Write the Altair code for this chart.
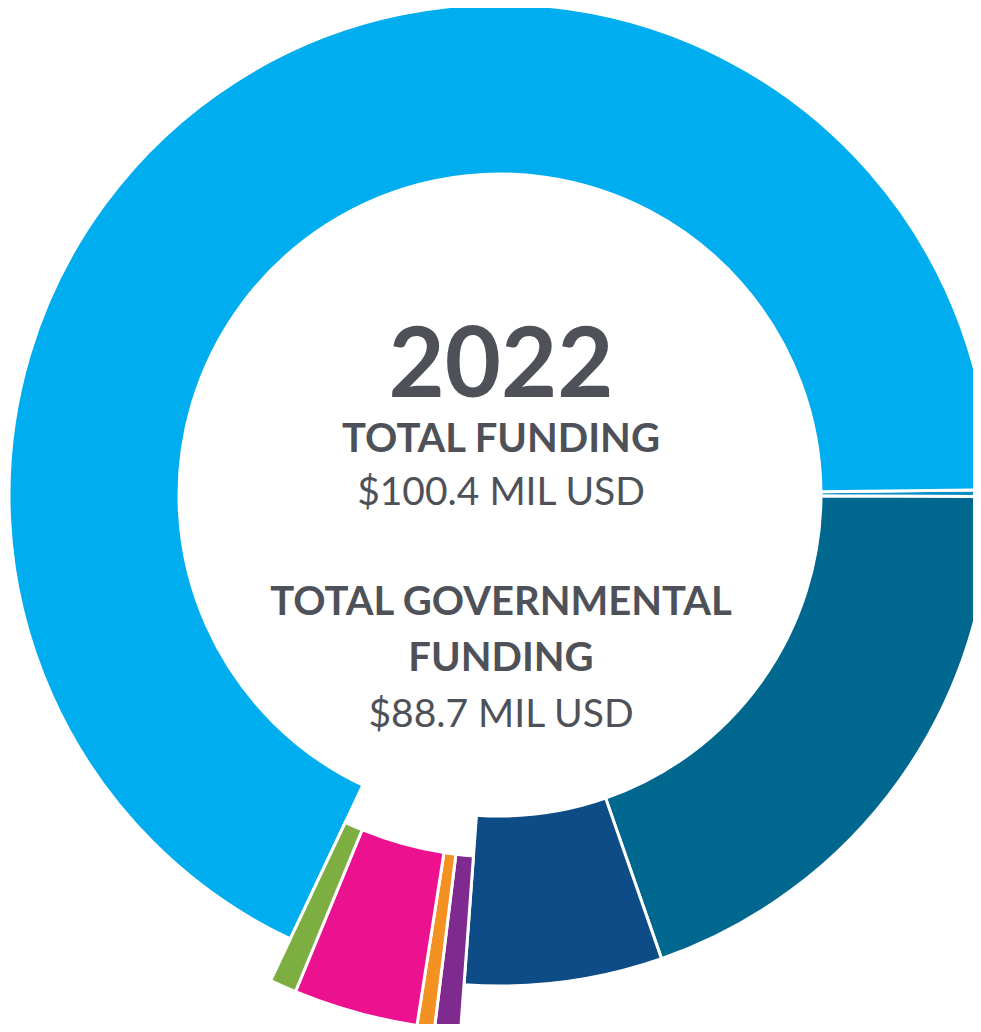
import math
import altair as alt
import pandas as pd

# ---- data -------------------------------------------------------------
names = ["Thin blue", "Teal", "Navy", "Purple", "Orange", "Pink", "Green", "Light blue"]
values = [0.22, 19.69, 6.53, 0.78, 0.53, 3.76, 0.81, 68.08]   # MIL USD
colors = ["#0a8ec6", "#00678f", "#0e4c87", "#7f2a8e", "#f39222", "#ec118f", "#7cae42", "#00adee"]
exploded = [False, False, False, True, True, True, True, False]
order = list(range(len(names)))

year_text = ["2022"]
total_label = ["TOTAL FUNDING"]
total_value = ["$100.4 MIL USD"]
gov_label_1 = ["TOTAL GOVERNMENTAL"]
gov_label_2 = ["FUNDING"]
gov_value = ["$88.7 MIL USD"]

df = pd.DataFrame({"name": names, "value": values, "exploded": exploded, "order": order})
total = sum(values)

# ---- layout -------------------------------------------------------------
CX, CY = 492, 487
start = math.radians(89.4)
theta_scale = alt.Scale(domain=[0, total], range=[start, start + 2 * math.pi])
text_color = "#4f5159"
FONT = "Lato"

base = (
    alt.Chart(df)
    .transform_window(cum_end="sum(value)", sort=[alt.SortField("order")], frame=[None, 0])
    .transform_calculate(cum_start="datum.cum_end - datum.value")
)
enc = dict(
    theta=alt.Theta("cum_start:Q", scale=theta_scale),
    theta2=alt.Theta2("cum_end:Q"),
    color=alt.Color("name:N", scale=alt.Scale(domain=names, range=colors), legend=None),
)

ring = base.transform_filter("!datum.exploded").mark_arc(
    innerRadius=321, radius=491, stroke="white", strokeWidth=3, x=CX, y=CY
).encode(**enc)

pulled = base.transform_filter("datum.exploded").mark_arc(
    innerRadius=362, radius=537, stroke="white", strokeWidth=3, x=CX, y=CY
).encode(**enc)


def line(txt, size, weight, y):
    return alt.Chart(pd.DataFrame({"t": txt})).mark_text(
        font=FONT, fontSize=size, fontWeight=weight, color=text_color,
        align="center", baseline="alphabetic", x=CX + 1, y=y,
    ).encode(text="t:N")


texts = [
    line(year_text, 97, "bold", 389),
    line(total_label, 40, "bold", 444),
    line(total_value, 39, "normal", 497),
    line(gov_label_1, 40, "bold", 607),
    line(gov_label_2, 40, "bold", 663),
    line(gov_value, 39, "normal", 719),
]

chart = (
    alt.layer(ring, pulled, *texts)
    .properties(width=965, height=1016, padding=0, autosize=alt.AutoSizeParams(type="none"))
    .configure_view(strokeWidth=0)
)

chart.save("out.html", embed_options={"renderer": "svg", "actions": False})
